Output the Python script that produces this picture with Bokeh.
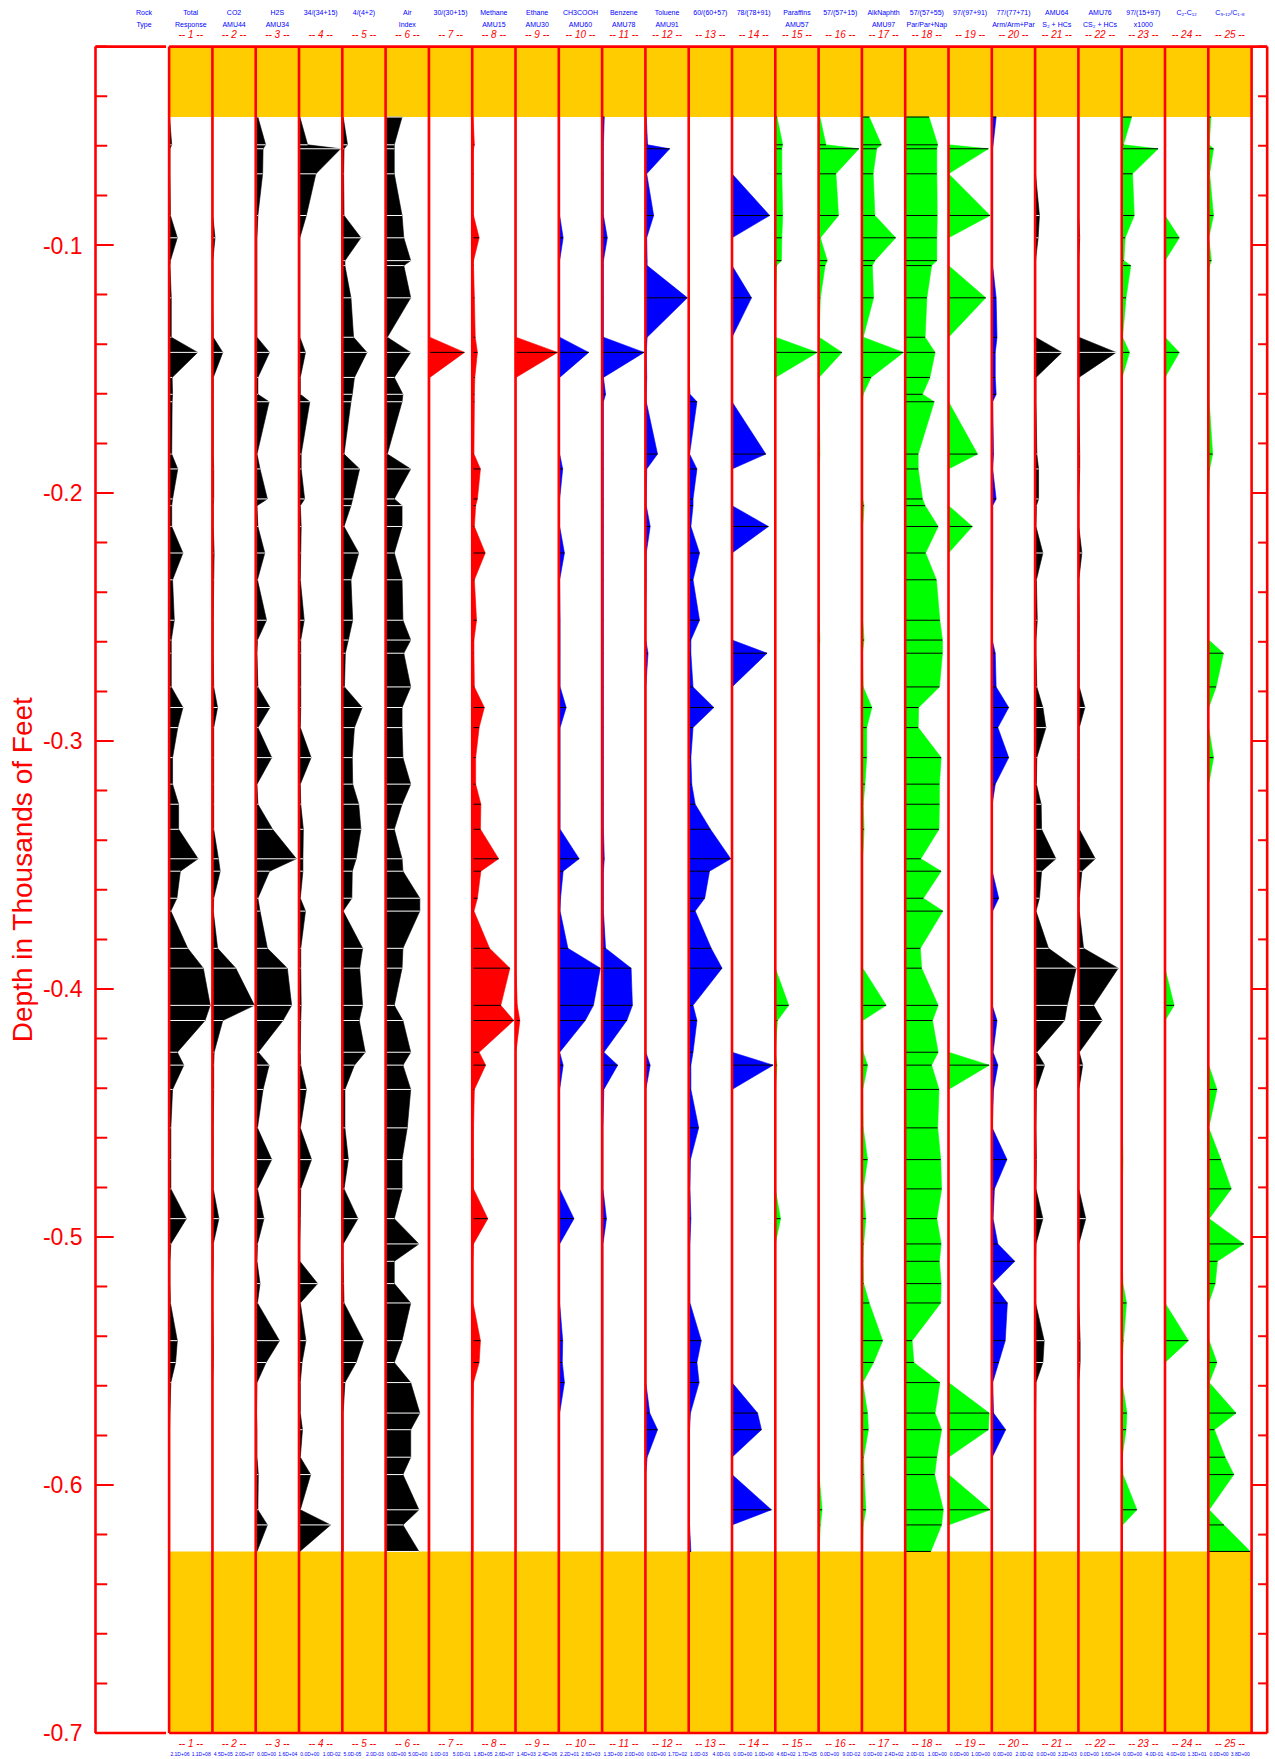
import math
from bokeh.plotting import figure
from bokeh.models import Range1d
from bokeh.core.properties import value
from bokeh.embed import file_html
from bokeh.resources import INLINE

# ---------------- data ----------------
# sample depths (thousands of feet)
sample_depth = [-0.0484, -0.0596, -0.0612, -0.0713, -0.0881, -0.0971, -0.1063, -0.1083, -0.1213, -0.1372,
                -0.1433, -0.1534, -0.1602, -0.1632, -0.1843, -0.1903, -0.2024, -0.2051, -0.2135, -0.2242,
                -0.2350, -0.2513, -0.2593, -0.2646, -0.2782, -0.2865, -0.2946, -0.3067, -0.3174, -0.3255,
                -0.3356, -0.3475, -0.3525, -0.3634, -0.3686, -0.3836, -0.3916, -0.4066, -0.4127, -0.4255,
                -0.4307, -0.4405, -0.4560, -0.4688, -0.4806, -0.4926, -0.5028, -0.5098, -0.5188, -0.5266,
                -0.5418, -0.5506, -0.5587, -0.5710, -0.5777, -0.5888, -0.5958, -0.6100, -0.6161, -0.6268]

# readings, each as fraction of its track's scale (min..max below)
t01 = [0.01,0.06,0.02,0.02,0.03,0.19,0.03,0.02,0.05,0.05, 0.66,0.07,0.08,0.07,0.06,0.20,0.08,0.06,0.06,0.32,
       0.08,0.12,0.05,0.05,0.05,0.32,0.20,0.08,0.08,0.22, 0.22,0.67,0.26,0.18,0.04,0.43,0.79,0.95,0.83,0.19,
       0.34,0.08,0.04,0.04,0.04,0.40,0.04,0.02,0.02,0.03, 0.19,0.15,0.04,0.02,0.01,0.01,0.01,0.01,0.01,0.01]
t02 = [0.01,0.01,0.01,0.01,0.01,0.06,0.01,0.01,0.01,0.02, 0.24,0.02,0.02,0.02,0.02,0.03,0.03,0.02,0.02,0.04,
       0.03,0.02,0.02,0.02,0.03,0.12,0.03,0.03,0.03,0.03, 0.03,0.14,0.18,0.03,0.02,0.12,0.54,0.97,0.24,0.04,
       0.03,0.03,0.02,0.02,0.02,0.15,0.02,0.02,0.01,0.01, 0.02,0.02,0.01,0.01,0.01,0.01,0.01,0.01,0.01,0.01]
t03 = [0.05,0.23,0.17,0.16,0.05,0.03,0.03,0.03,0.03,0.03, 0.32,0.05,0.05,0.31,0.03,0.10,0.27,0.03,0.05,0.21,
       0.04,0.25,0.04,0.03,0.05,0.33,0.05,0.37,0.03,0.05, 0.39,0.94,0.32,0.05,0.10,0.27,0.73,0.83,0.63,0.06,
       0.31,0.17,0.04,0.37,0.04,0.19,0.04,0.03,0.10,0.04, 0.55,0.24,0.03,0.02,0.03,0.03,0.06,0.05,0.27,0.03]
t04 = [0.02,0.20,0.96,0.39,0.17,0.02,0.02,0.02,0.02,0.02, 0.15,0.03,0.03,0.25,0.05,0.05,0.13,0.03,0.05,0.04,
       0.03,0.12,0.04,0.04,0.04,0.04,0.03,0.28,0.03,0.04, 0.10,0.09,0.09,0.03,0.15,0.04,0.04,0.05,0.04,0.03,
       0.04,0.17,0.03,0.29,0.04,0.03,0.02,0.02,0.43,0.03, 0.16,0.07,0.03,0.03,0.08,0.03,0.27,0.03,0.73,0.02]
t05 = [0.02,0.12,0.04,0.03,0.04,0.43,0.06,0.06,0.20,0.26, 0.57,0.28,0.23,0.20,0.04,0.40,0.24,0.20,0.04,0.38,
       0.20,0.24,0.14,0.07,0.05,0.46,0.28,0.23,0.24,0.38, 0.43,0.32,0.23,0.22,0.02,0.47,0.40,0.47,0.39,0.53,
       0.28,0.06,0.06,0.14,0.04,0.36,0.02,0.02,0.03,0.04, 0.49,0.32,0.06,0.02,0.02,0.02,0.02,0.02,0.02,0.02]
t06 = [0.38,0.20,0.20,0.20,0.38,0.42,0.58,0.42,0.58,0.04, 0.58,0.20,0.40,0.38,0.04,0.58,0.20,0.38,0.38,0.20,
       0.38,0.40,0.58,0.42,0.58,0.38,0.38,0.40,0.58,0.38, 0.20,0.38,0.40,0.79,0.79,0.40,0.38,0.20,0.40,0.58,
       0.40,0.58,0.50,0.38,0.38,0.20,0.77,0.20,0.20,0.58, 0.38,0.20,0.58,0.79,0.58,0.58,0.40,0.77,0.40,0.77]
t07 = [0.02,0.02,0.02,0.02,0.02,0.02,0.02,0.02,0.02,0.02, 0.82,0.02,0.02,0.02,0.02,0.02,0.02,0.02,0.02,0.02,
       0.02,0.02,0.02,0.02,0.02,0.02,0.02,0.02,0.02,0.02, 0.02,0.02,0.02,0.02,0.02,0.02,0.02,0.02,0.02,0.02,
       0.02,0.02,0.02,0.02,0.02,0.02,0.02,0.02,0.02,0.02, 0.02,0.02,0.02,0.02,0.02,0.02,0.02,0.02,0.02,0.02]
t08 = [0.02,0.05,0.03,0.03,0.03,0.16,0.03,0.03,0.05,0.07, 0.12,0.06,0.05,0.05,0.04,0.19,0.12,0.08,0.05,0.30,
       0.05,0.10,0.04,0.04,0.05,0.28,0.16,0.08,0.08,0.20, 0.19,0.61,0.20,0.12,0.04,0.40,0.87,0.66,0.96,0.16,
       0.31,0.05,0.03,0.03,0.03,0.36,0.03,0.02,0.02,0.02, 0.19,0.16,0.03,0.02,0.02,0.02,0.02,0.02,0.02,0.02]
t09 = [0.01,0.01,0.01,0.01,0.01,0.01,0.01,0.01,0.01,0.01, 0.97,0.01,0.01,0.01,0.01,0.01,0.01,0.01,0.01,0.01,
       0.01,0.01,0.01,0.01,0.01,0.01,0.01,0.01,0.01,0.01, 0.01,0.01,0.01,0.01,0.01,0.01,0.01,0.04,0.10,0.01,
       0.01,0.01,0.01,0.01,0.01,0.01,0.01,0.01,0.01,0.01, 0.01,0.01,0.01,0.01,0.01,0.01,0.01,0.01,0.01,0.01]
t10 = [0.02,0.02,0.02,0.02,0.02,0.10,0.02,0.02,0.02,0.02, 0.69,0.02,0.02,0.02,0.02,0.09,0.02,0.02,0.02,0.13,
       0.02,0.03,0.03,0.03,0.03,0.17,0.03,0.03,0.03,0.03, 0.03,0.47,0.10,0.04,0.03,0.21,0.96,0.80,0.61,0.02,
       0.10,0.02,0.02,0.02,0.02,0.35,0.02,0.02,0.02,0.02, 0.09,0.08,0.13,0.02,0.02,0.02,0.02,0.02,0.02,0.02]
t11 = [0.05,0.03,0.03,0.03,0.03,0.12,0.03,0.03,0.03,0.03, 0.97,0.03,0.08,0.03,0.03,0.03,0.03,0.03,0.03,0.03,
       0.03,0.03,0.03,0.03,0.03,0.03,0.03,0.03,0.03,0.03, 0.03,0.05,0.03,0.03,0.03,0.08,0.67,0.70,0.57,0.04,
       0.36,0.04,0.02,0.02,0.02,0.10,0.02,0.02,0.02,0.02, 0.02,0.02,0.02,0.02,0.02,0.02,0.02,0.02,0.02,0.02]
t12 = [0.02,0.05,0.56,0.03,0.19,0.03,0.04,0.04,0.97,0.04, 0.02,0.03,0.02,0.02,0.28,0.03,0.02,0.02,0.11,0.02,
       0.02,0.01,0.01,0.06,0.01,0.01,0.01,0.01,0.01,0.01, 0.01,0.01,0.01,0.01,0.01,0.01,0.01,0.01,0.01,0.01,
       0.11,0.01,0.01,0.01,0.01,0.01,0.01,0.01,0.01,0.01, 0.01,0.01,0.01,0.10,0.28,0.04,0.01,0.01,0.01,0.01]
t13 = [0.01,0.01,0.01,0.01,0.01,0.01,0.01,0.01,0.01,0.01, 0.01,0.01,0.03,0.19,0.02,0.19,0.10,0.10,0.05,0.25,
       0.10,0.25,0.05,0.05,0.10,0.58,0.10,0.05,0.07,0.15, 0.50,0.97,0.48,0.37,0.15,0.52,0.77,0.10,0.19,0.10,
       0.05,0.05,0.23,0.04,0.03,0.05,0.03,0.03,0.03,0.03, 0.29,0.19,0.24,0.04,0.02,0.02,0.02,0.02,0.02,0.05]
t14 = [0,0,0,0,0.87,0,0,0,0.45,0, 0,0,0,0,0.78,0,0,0,0.84,0,
       0,0,0,0.81,0,0,0,0,0,0, 0,0,0,0,0,0,0,0,0,0,
       0.95,0,0,0,0,0,0,0,0,0, 0,0,0,0.59,0.68,0,0,0.91,0,0]
t15 = [0.04,0.17,0.15,0.15,0.17,0.15,0.14,0.03,0.01,0, 0.97,0,0,0,0,0,0,0,0,0,
       0,0,0,0,0,0,0,0,0,0, 0,0,0,0,0,0,0,0.31,0.05,0,
       0.04,0,0,0,0,0.12,0,0,0,0, 0,0,0,0,0,0,0,0,0,0]
t16 = [0.03,0.17,0.93,0.40,0.46,0.04,0.20,0.15,0.04,0.01, 0.54,0.01,0.01,0.01,0.03,0.01,0.01,0.01,0.01,0.01,
       0.01,0.01,0.03,0.01,0.01,0.01,0.01,0.01,0.01,0.01, 0.01,0.01,0.01,0.01,0.01,0.01,0.01,0.01,0.01,0.01,
       0.01,0.01,0.01,0.01,0.01,0.01,0.01,0.01,0.01,0.01, 0.01,0.01,0.01,0.01,0.01,0.01,0.01,0.08,0.04,0.01]
t17 = [0.17,0.45,0.34,0.26,0.30,0.78,0.30,0.24,0.27,0.03, 0.96,0.21,0.03,0.02,0.02,0.02,0.02,0.05,0.02,0.02,
       0.02,0.02,0.05,0.01,0.03,0.23,0.11,0.11,0.07,0.03, 0.05,0.02,0.02,0.02,0.02,0.02,0.02,0.56,0.02,0.03,
       0.13,0.02,0.03,0.13,0.03,0.09,0.04,0.03,0.04,0.17, 0.48,0.27,0.02,0.13,0.15,0.04,0.05,0.09,0.03,0.02]
t18 = [0.55,0.75,0.73,0.73,0.74,0.73,0.73,0.61,0.50,0.46, 0.69,0.57,0.40,0.67,0.30,0.30,0.40,0.46,0.76,0.47,
       0.72,0.80,0.86,0.86,0.79,0.31,0.30,0.83,0.79,0.79, 0.78,0.36,0.83,0.42,0.87,0.35,0.38,0.76,0.63,0.76,
       0.61,0.78,0.75,0.82,0.84,0.73,0.83,0.79,0.83,0.82, 0.16,0.20,0.80,0.69,0.84,0.73,0.68,0.88,0.84,0.59]
t19 = [0,0,0.92,0,0.96,0,0,0,0.86,0, 0,0,0,0,0.67,0,0,0,0.55,0,
       0,0,0,0,0,0,0,0,0,0, 0,0,0,0,0,0,0,0,0,0,
       0.94,0,0,0,0,0,0,0,0,0, 0,0,0,0.94,0.92,0,0,0.96,0,0]
t20 = [0.10,0.03,0.02,0.02,0.02,0.02,0.02,0.02,0.10,0.12, 0.08,0.08,0.10,0.02,0.04,0.02,0.10,0.02,0.02,0.02,
       0.02,0.01,0.01,0.08,0.10,0.39,0.14,0.39,0.08,0.01, 0.01,0.01,0.01,0.16,0.02,0.01,0.01,0.01,0.12,0.03,
       0.14,0.04,0.01,0.35,0.06,0.03,0.14,0.53,0.02,0.36, 0.31,0.16,0.02,0.04,0.32,0.01,0.01,0.01,0.01,0.01]
t21 = [0.01,0.01,0.01,0.01,0.10,0.07,0.01,0.01,0.01,0.01, 0.62,0.02,0.02,0.02,0.04,0.08,0.08,0.03,0.02,0.18,
       0.03,0.05,0.02,0.02,0.04,0.18,0.25,0.04,0.03,0.14, 0.15,0.48,0.15,0.10,0.02,0.31,0.95,0.74,0.68,0.04,
       0.22,0.03,0.02,0.03,0.02,0.18,0.02,0.01,0.01,0.01, 0.21,0.18,0.02,0.01,0.01,0.01,0.01,0.01,0.01,0.01]
t22 = [0.01,0.01,0.01,0.01,0.01,0.03,0.01,0.01,0.01,0.01, 0.87,0.01,0.01,0.01,0.03,0.03,0.01,0.01,0.01,0.08,
       0.01,0.02,0.02,0.02,0.02,0.15,0.02,0.02,0.02,0.02, 0.02,0.39,0.08,0.02,0.02,0.12,0.92,0.35,0.55,0.02,
       0.10,0.01,0.01,0.01,0.01,0.17,0.01,0.01,0.01,0.01, 0.04,0.04,0.01,0.01,0.01,0.01,0.01,0.01,0.01,0.01]
t23 = [0.23,0.04,0.84,0.25,0.29,0.08,0.05,0.21,0.10,0.02, 0.18,0.01,0.01,0.01,0.01,0.01,0.01,0.01,0.01,0.01,
       0.01,0.01,0.02,0.01,0.02,0.01,0.01,0.01,0.01,0.01, 0.01,0.01,0.01,0.01,0.01,0.01,0.01,0.01,0.01,0.01,
       0.01,0.01,0.01,0.03,0.01,0.01,0.01,0.01,0.03,0.11, 0.04,0.01,0.01,0.12,0.10,0.01,0.03,0.35,0.02,0.01]
t24 = [0,0,0,0,0,0.33,0,0,0,0, 0.33,0,0,0,0,0,0,0,0,0,
       0,0,0,0,0,0,0,0,0,0, 0,0,0,0,0,0,0,0.21,0,0,
       0,0,0,0,0,0,0,0,0,0, 0.54,0,0,0,0,0,0,0,0,0]
t25 = [0.06,0.02,0.12,0.03,0.12,0.01,0.07,0.03,0.02,0.02, 0.02,0.02,0.02,0.02,0.10,0.03,0.01,0.01,0.01,0.01,
       0.01,0.01,0.01,0.35,0.18,0.01,0.01,0.12,0.01,0.01, 0.01,0.01,0.01,0.01,0.01,0.01,0.01,0.01,0.01,0.01,
       0.01,0.20,0.01,0.29,0.53,0.02,0.82,0.21,0.16,0.01, 0.02,0.20,0.02,0.64,0.14,0.39,0.59,0.02,0.36,0.97]

tracks = [t01, t02, t03, t04, t05, t06, t07, t08, t09, t10, t11, t12, t13,
          t14, t15, t16, t17, t18, t19, t20, t21, t22, t23, t24, t25]

header_top = ["Total", "CO2", "H2S", "34/(34+15)", "4/(4+2)", "Air", "30/(30+15)", "Methane", "Ethane",
              "CH3COOH", "Benzene", "Toluene", "60/(60+57)", "78/(78+91)", "Paraffins", "57/(57+15)",
              "AlkNaphth", "57/(57+55)", "97/(97+91)", "77/(77+71)", "AMU64", "AMU76", "97/(15+97)",
              "C\u2082-C\u2081\u2082", "C\u2089\u208b\u2081\u2082/C\u2081\u208b\u2088"]
header_bottom = ["Response", "AMU44", "AMU34", "", "", "Index", "", "AMU15", "AMU30", "AMU60", "AMU78",
                 "AMU91", "", "", "AMU57", "", "AMU97", "Par/Par+Nap", "", "Arm/Arm+Par",
                 "S\u2082 + HCs", "CS\u2082 + HCs", "x1000", "", ""]
scale_min = ["2.1D+06", "4.5D+05", "0.0D+00", "0.0D+00", "5.0D-05", "0.0D+00", "1.0D-03", "1.8D+05",
             "1.4D+03", "2.2D+01", "1.3D+00", "0.0D+00", "1.0D-03", "0.0D+00", "4.6D+02", "0.0D+00",
             "0.0D+00", "2.0D-01", "0.0D+00", "0.0D+00", "0.0D+00", "0.0D+00", "0.0D+00", "4.0D+00", "0.0D+00"]
scale_max = ["1.1D+08", "2.0D+07", "1.6D+04", "1.0D-02", "2.0D-03", "5.0D+00", "5.0D-01", "2.6D+07",
             "2.4D+06", "2.6D+03", "2.0D+00", "1.7D+02", "4.0D-01", "1.0D+00", "1.7D+05", "9.0D-02",
             "2.4D+02", "1.0D+00", "1.0D+00", "2.0D-02", "3.2D+03", "1.6D+04", "4.0D-01", "1.3D+01", "3.8D+00"]
track_colors = ["black"] * 6 + ["#FF0000"] * 3 + ["#0000FF"] * 5 + ["#00FF00"] * 5 + ["#0000FF"] + \
               ["black"] * 2 + ["#00FF00"] * 3

major_ticks = [-0.1, -0.2, -0.3, -0.4, -0.5, -0.6, -0.7]
major_labels = ["-0.1", "-0.2", "-0.3", "-0.4", "-0.5", "-0.6", "-0.7"]
minor_ticks = [round(-0.02 * k, 2) for k in range(1, 36)]

# ---------------- layout ----------------
TOP, BOTTOM = -0.02, -0.70
AX_L, AX_R = -1.70, 25.36
RED = "#FF0000"
FONT = value("Liberation Sans")
n = len(tracks)

p = figure(width=1275, height=1759, x_range=Range1d(-3.894, 25.552), y_range=Range1d(-0.71069, -0.00141),
           output_backend="svg", toolbar_location=None, x_axis_location=None, y_axis_location=None,
           min_border=0, outline_line_color=None, background_fill_color="white",
           border_fill_color="white")
p.grid.visible = False

# yellow bands above/below the logged interval
p.quad(left=[0, 0], right=[n, n], top=[TOP, sample_depth[-1]], bottom=[sample_depth[0], BOTTOM],
       fill_color="#FFCC00", line_color=None)

# filled curves
for i, (vals, col) in enumerate(zip(tracks, track_colors)):
    base = i
    xs = [base] + [base + v for v in vals] + [base]
    ys = [sample_depth[0]] + sample_depth + [sample_depth[-1]]
    p.patch(xs, ys, fill_color=col, line_color=col, line_width=0.6)
    lc = "white" if col == "black" else "black"
    p.segment(x0=[base] * len(vals), y0=sample_depth, x1=[base + v for v in vals], y1=sample_depth,
              line_color=lc, line_width=1)

# track separators
p.segment(x0=list(range(n + 1)), y0=[TOP] * (n + 1), x1=list(range(n + 1)), y1=[BOTTOM] * (n + 1),
          line_color=RED, line_width=2.6)
# frame
p.segment(x0=[AX_L, 0, AX_L, 0, AX_L, AX_R], y0=[TOP, TOP, BOTTOM, BOTTOM, TOP, TOP],
          x1=[-0.07, AX_R, -0.07, AX_R, AX_L, AX_R], y1=[TOP, TOP, BOTTOM, BOTTOM, BOTTOM, BOTTOM],
          line_color=RED, line_width=2.6)
# ticks (left and right)
p.segment(x0=[AX_L] * len(minor_ticks), y0=minor_ticks, x1=[AX_L + 0.27] * len(minor_ticks), y1=minor_ticks,
          line_color=RED, line_width=2)
p.segment(x0=[AX_L] * len(major_ticks), y0=major_ticks, x1=[AX_L + 0.42] * len(major_ticks), y1=major_ticks,
          line_color=RED, line_width=2)
p.segment(x0=[AX_R] * len(minor_ticks), y0=minor_ticks, x1=[AX_R - 0.21] * len(minor_ticks), y1=minor_ticks,
          line_color=RED, line_width=2)
p.segment(x0=[AX_R] * len(major_ticks), y0=major_ticks, x1=[AX_R - 0.35] * len(major_ticks), y1=major_ticks,
          line_color=RED, line_width=2)

# depth labels and title
p.text(x=[-2.0] * len(major_ticks), y=major_ticks, text=major_labels, text_align="right",
       text_baseline="middle", text_font_size="23px", text_color=RED, text_font=FONT)
p.text(x=[-3.376], y=[-0.3518], text=["Depth in Thousands of Feet"], angle=math.pi / 2,
       text_align="center", text_baseline="middle", text_font_size="28px", text_color=RED, text_font=FONT)

# headers
centers = [i + 0.5 for i in range(n)]
p.text(x=[-0.58] + centers, y=[-0.00613] * (n + 1), text=["Rock"] + header_top, text_align="center",
       text_baseline="middle", text_font_size="7px", text_color="#0000FF", text_font=FONT)
p.text(x=[-0.58] + centers, y=[-0.01121] * (n + 1), text=["Type"] + header_bottom, text_align="center",
       text_baseline="middle", text_font_size="7px", text_color="#0000FF", text_font=FONT)
nums = ["-- %d --" % (i + 1) for i in range(n)]
p.text(x=centers, y=[-0.01524] * n, text=nums, text_align="center", text_baseline="middle",
       text_font_size="10px", text_font_style="italic", text_color=RED, text_font=FONT)
p.text(x=centers, y=[-0.70435] * n, text=nums, text_align="center", text_baseline="middle",
       text_font_size="10px", text_font_style="italic", text_color=RED, text_font=FONT)
p.text(x=[i + 0.03 for i in range(n)], y=[-0.70839] * n, text=scale_min, text_align="left",
       text_baseline="middle", text_font_size="5px", text_color="#0000FF", text_font=FONT)
p.text(x=[i + 0.96 for i in range(n)], y=[-0.70839] * n, text=scale_max, text_align="right",
       text_baseline="middle", text_font_size="5px", text_color="#0000FF", text_font=FONT)

open("out.html", "w").write(file_html(p, INLINE))
